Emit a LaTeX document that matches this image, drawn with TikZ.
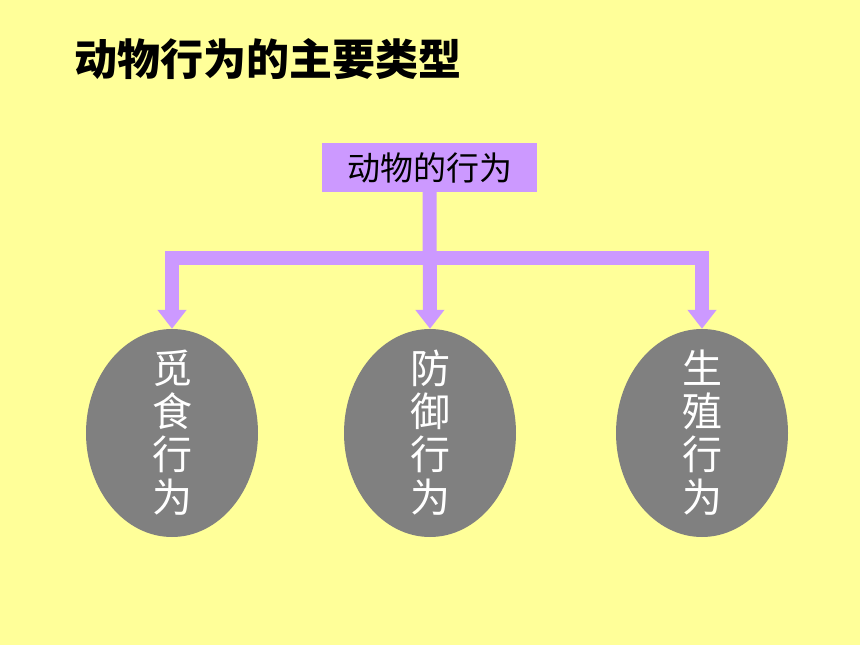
\documentclass[tikz,border=0pt]{standalone}
\usepackage{fontspec}
\newfontfamily\cjk{Noto Sans CJK SC}
\usepackage{tikz}
\usetikzlibrary{calc,positioning,shapes.geometric,arrows.meta}

\definecolor{bgyellow}{HTML}{FFFF99}
\definecolor{lavender}{HTML}{CC99FF}
\definecolor{ovalgray}{HTML}{808080}

\tikzset{
	rootbox/.style={rectangle, fill=lavender, minimum width=215pt, minimum height=49pt, inner sep=0pt, font=\cjk\fontsize{33}{36}\selectfont},
	kindoval/.style={ellipse, fill=ovalgray, minimum width=172pt, minimum height=208pt, inner sep=0pt},
	kindtext/.style={inner sep=0pt, text=white, align=center, font=\cjk\fontsize{40}{43}\selectfont},
	bar/.style={draw=lavender, line width=14pt},
	bararrow/.style={bar, -{Triangle[width=28pt, length=19pt]}}
}

\begin{document}
\begin{tikzpicture}[x=1pt, y=-1pt]
	\fill[bgyellow] (0,0) rectangle (860,645);
	\useasboundingbox (0,0) rectangle (860,645);

	% Title
	\node[anchor=west, inner sep=0pt, font=\cjk\bfseries\fontsize{43}{46}\selectfont] (title) at (74,59) {动物行为的主要类型};

	% Root box and the three kinds
	\node[rootbox] (root) at (429.5,167.5) {动物的行为};
	\node[kindoval, label={[kindtext]center:觅\\食\\行\\为}] (feed) at (172,433) {};
	\node[kindoval, label={[kindtext]center:防\\御\\行\\为}] (defend) at (430,433) {};
	\node[kindoval, label={[kindtext]center:生\\殖\\行\\为}] (breed) at (702,433) {};

	% Connectors
	\coordinate (fork) at (430,258);
	\draw[bararrow] (root.south) -- (defend.north);
	\draw[bararrow] (fork) -| (feed.north);
	\draw[bararrow] (fork) -| (breed.north);
\end{tikzpicture}
\end{document}
